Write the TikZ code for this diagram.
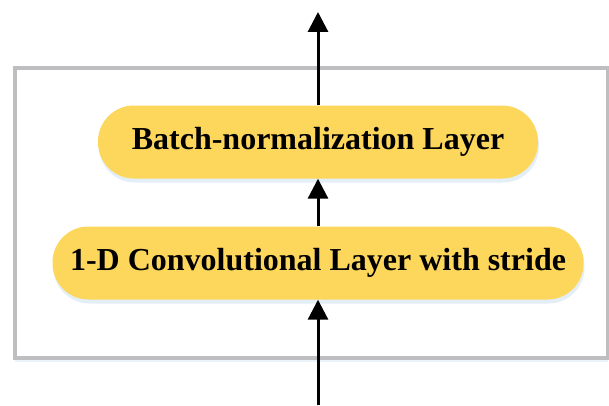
\documentclass[tikz,border=0pt]{standalone}
\usepackage{fontspec}
\setmainfont{Liberation Serif}
\usepackage{xcolor}
\usepackage{tikz}
\usetikzlibrary{positioning,arrows.meta,shadows}
\definecolor{layeryellow}{RGB}{253,214,92}
\definecolor{frameGray}{RGB}{190,190,192}
\definecolor{shadowBlue}{RGB}{220,234,246}

\begin{document}
\begin{tikzpicture}[x=1pt, y=1pt, node distance=121pt,
    every node/.style={rectangle, rounded corners=36pt, fill=layeryellow, minimum height=73pt, align=center, font=\bfseries\fontsize{32}{38}\selectfont,
        drop shadow={shadow xshift=1pt, shadow yshift=-4pt, fill=shadowBlue, opacity=0.8}},
    flow/.style={line width=3pt, -{Triangle[width=20pt, length=20pt]}}]
    \useasboundingbox (0,0) rectangle (609,405);
    % outer block
    \draw [frameGray, line width=4pt, fill=white, drop shadow={shadow xshift=0pt, shadow yshift=-4pt, fill=shadowBlue, opacity=0.6}] (15,47) rectangle (608,337);
    \node [minimum width=531pt] (conv) at (318,142) {1-D Convolutional Layer with stride};
    \node [above of=conv, minimum width=440pt] (bn) {Batch-normalization Layer};
    \coordinate (inlet) at (318,0);
    \coordinate (outlet) at (318,393);

    \draw [flow] (inlet) -- (conv);
    \draw [flow] (conv) -- (bn);
    \draw [flow] (bn) -- (outlet);
\end{tikzpicture}
\end{document}
